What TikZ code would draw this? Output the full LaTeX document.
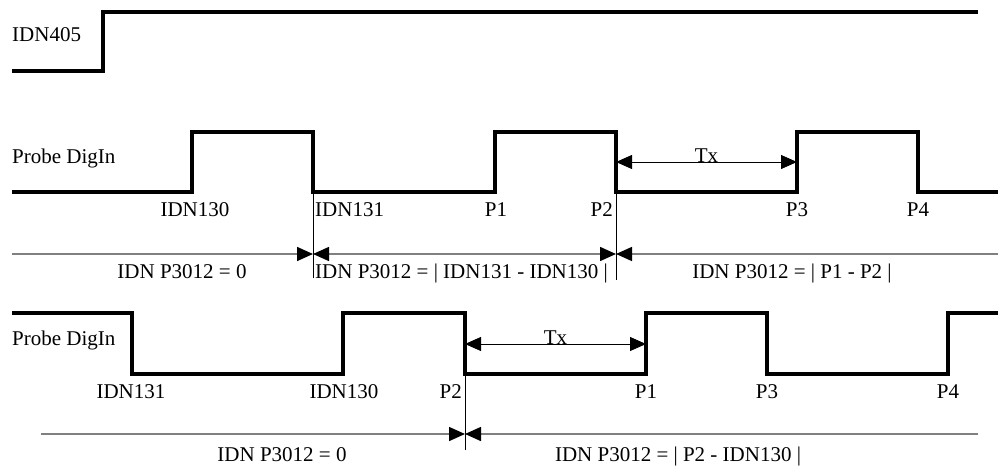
\documentclass[tikz,border=0pt]{standalone}
\usepackage{fontspec}
\setmainfont{Liberation Serif}
\usetikzlibrary{arrows.meta}
\begin{document}
\begin{tikzpicture}[x=1pt, y=-1pt,
    sg/.style={line width=4pt, line join=miter},
    dm/.style={line width=1.5pt, draw=black!50},
    mk/.style={line width=0.8pt},
    tp/.style={inner sep=0pt, font=\fontsize{21}{24}\selectfont},
    hd/.tip={Triangle[length=16pt, width=14pt, color=black]}
  ]
  \useasboundingbox (0,0) rectangle (998,468);

  % IDN405
  \node[tp, anchor=base west] (n405) at (12,42) {IDN405};
  \draw[sg] (12,71) -| (103,12) -- (978,12);

  % Probe DigIn, first case
  \node[tp, anchor=base west] (pa) at (12,163) {Probe DigIn};
  \draw[sg] (12,192) -| (192,132) -| (313,192) -| (495,132) -| (616,192)
    -| (797,132) -| (918,192) -- (998,192);
  \foreach \x/\t [count=\i] in {195/IDN130, 496/P1, 797/P3, 918/P4} {
    \node[tp, anchor=base] (la\i) at (\x,216) {\t};
  }
  \node[tp, anchor=base west] (la131) at (315,216) {IDN131};
  \node[tp, anchor=base east] (laP2) at (613,216) {P2};

  \coordinate (ta1) at (616,162);
  \coordinate (ta2) at (797,162);
  \draw[mk, hd-hd] (ta1) -- (ta2) node[tp, midway, anchor=base] (txa) {Tx};

  % measurement, first case
  \coordinate (ma1) at (313,192);
  \coordinate (ma2) at (616,192);
  \coordinate (da0) at (12,254);
  \coordinate (da1) at (313,254);
  \coordinate (da2) at (616,254);
  \coordinate (da3) at (998,254);
  \draw[mk] (ma1) -- (313,278);
  \draw[mk] (ma2) -- (616,280);
  \draw[dm, -hd] (da0) -- (da1);
  \draw[dm, hd-hd] (da1) -- (da2);
  \draw[dm, hd-] (da2) -- (da3);
  \node[tp, anchor=base] (ra1) at (182,278) {IDN P3012 = 0};
  \node[tp, anchor=base west] (ra2) at (315,278) {IDN P3012 = | IDN131 - IDN130 |};
  \node[tp, anchor=base] (ra3) at (792,278) {IDN P3012 = | P1 - P2 |};

  % Probe DigIn, second case
  \node[tp, anchor=base west] (pb) at (12,345) {Probe DigIn};
  \draw[sg] (12,313) -| (132,374) -| (343,313) -| (465,374) -| (646,313)
    -| (767,374) -| (948,313) -- (998,313);
  \foreach \x/\t [count=\i] in {131/IDN131, 344/IDN130, 646/P1, 767/P3, 948/P4} {
    \node[tp, anchor=base] (lb\i) at (\x,398) {\t};
  }
  \node[tp, anchor=base east] (lbP2) at (462,398) {P2};

  \coordinate (tb1) at (465,344);
  \coordinate (tb2) at (646,344);
  \draw[mk, hd-hd] (tb1) -- (tb2) node[tp, midway, anchor=base] (txb) {Tx};

  % measurement, second case
  \coordinate (mb1) at (465,374);
  \coordinate (db0) at (41,434);
  \coordinate (db1) at (465,434);
  \coordinate (db2) at (978,434);
  \draw[mk] (mb1) -- (465,450);
  \draw[dm, -hd] (db0) -- (db1);
  \draw[dm, hd-] (db1) -- (db2);
  \node[tp, anchor=base] (rb1) at (282,461) {IDN P3012 = 0};
  \node[tp, anchor=base] (rb2) at (678,461) {IDN P3012 = | P2 - IDN130 |};
\end{tikzpicture}
\end{document}
